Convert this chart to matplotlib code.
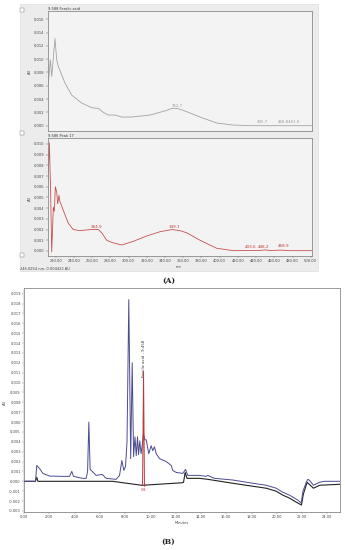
import matplotlib
matplotlib.use('Agg')
import matplotlib.pyplot as plt
from matplotlib.patches import Rectangle
from matplotlib.ticker import MultipleLocator, FormatStrFormatter

# ---------------- data ----------------
# Panel A, top: UV spectrum of ferulic acid standard
std_nm = [211.9, 214.1, 215.6, 219.2, 221.1, 222.9, 230.2, 237.6, 248.6, 259.5, 266.8,
          272.3, 277.8, 285.1, 292.5, 303.5, 323.6, 341.9, 347.4, 352.9, 360.1, 378.5,
          396.8, 414.7, 433.4, 501.4]
std_au = [0.0064, 0.0099, 0.0074, 0.0131, 0.0099, 0.0089, 0.0064, 0.0046, 0.0034, 0.0027,
          0.0026, 0.0020, 0.0016, 0.0016, 0.0013, 0.0013, 0.0016, 0.0023, 0.0026, 0.0026,
          0.0023, 0.0013, 0.0004, 0.0001, 0.0000, 0.0000]
std_labels = ["352.7", "435.7", "468.8461.0"]
std_label_nm = [347.0, 441.0, 464.0]
std_label_au = [0.0027, 0.0003, 0.0003]

# Panel A, bottom: UV spectrum of peak 17 in the sample
pk_nm = [210.8, 213.0, 214.3, 215.6, 217.4, 218.5, 219.6, 221.1, 222.2, 223.6, 224.7,
         228.3, 233.8, 239.3, 246.7, 257.7, 266.8, 270.5, 276.0, 281.5, 292.5, 305.2,
         319.9, 334.5, 347.7, 356.5, 363.8, 378.5, 396.8, 415.0, 444.4, 449.9, 455.4,
         466.4, 477.4, 501.4]
pk_au = [0.0048, 0.0101, 0.0060, -0.0001, 0.0041, 0.0037, 0.0060, 0.0055, 0.0044, 0.0052,
         0.0046, 0.0038, 0.0026, 0.0020, 0.0019, 0.0020, 0.0020, 0.0017, 0.0010, 0.0008,
         0.00056, 0.0009, 0.0014, 0.0018, 0.0020, 0.0019, 0.0017, 0.0010, 0.00025, 0.00003,
         0.00005, 0.0001, 0.00004, 0.00008, 0.00003, 0.00003]
pk_labels = ["264.9", "349.1", "433.6", "448.2", "468.9"]
pk_label_nm = [258.5, 344.0, 428.0, 442.0, 463.5]
pk_label_au = [0.0021, 0.0021, 0.0002, 0.0002, 0.0003]

# Panel B: chromatograms
smp_min = [0.0, 0.91, 1.01, 1.23, 1.49, 2.02, 3.07, 3.6, 3.78, 3.92, 4.65, 4.92, 5.03, 5.13,
           5.23, 5.4, 5.71, 6.19, 6.5, 7.29, 7.56, 7.74, 7.9, 8.03, 8.15, 8.29, 8.44, 8.56,
           8.67, 8.78, 8.88, 8.98, 9.06, 9.16, 9.26, 9.34, 9.45, 9.57, 9.67, 9.87, 10.06,
           10.19, 10.32, 10.46, 10.72, 11.25, 11.65, 11.77, 12.04, 12.56, 12.78, 12.96,
           13.88, 14.4, 14.54, 14.7, 15.07, 16.52, 18.1, 19.16, 19.95, 20.47, 21.0, 21.66,
           21.93, 22.07, 22.33, 22.45, 22.59, 22.9, 23.38, 23.77, 25.0]
smp_au = [0.0, 0.0, 0.0016, 0.0013, 0.0008, 0.00053, 0.0005, 0.0005, 0.0010, 0.0005, 0.0003,
          0.0003, 0.0010, 0.0060, 0.0012, 0.0010, 0.0006, 0.0007, 0.0003, 0.0002, 0.0006,
          0.0021, 0.0011, 0.0015, 0.0040, 0.0184, 0.0023, 0.0120, 0.0025, 0.0045, 0.0026,
          0.0045, 0.0027, 0.0041, 0.0028, 0.0035, 0.0048, 0.0042, 0.0042, 0.0028, 0.0036,
          0.0031, 0.0035, 0.0028, 0.0023, 0.0020, 0.0016, 0.0011, 0.0009, 0.0008, 0.0012,
          0.0006, 0.0006, 0.0005, 0.0006, 0.0005, 0.0003, 0.00013, -0.0002, -0.0004,
          -0.0007, -0.0011, -0.0014, -0.0019, -0.0022, -0.0010, -0.0001, 0.0002, 0.0001,
          -0.0004, -0.0001, 0.0, 0.0]
ref_min = [0.0, 0.9, 1.01, 1.1, 7.0, 7.56, 9.3, 9.38, 12.5, 12.62, 12.75, 12.9, 13.88,
           14.54, 16.52, 18.1, 19.16, 19.95, 20.47, 21.0, 21.66, 21.95, 22.1, 22.4, 22.9,
           23.4, 25.0]
ref_au = [0.0, 0.0, 0.0004, 0.0, 0.0, -0.0001, -0.0004, -0.0004, -0.00015, -0.0001, 0.0009,
          0.0003, 0.0003, 0.0002, -0.0002, -0.0005, -0.0007, -0.0010, -0.0014, -0.0017,
          -0.0022, -0.0024, -0.0013, -0.0001, -0.0007, -0.0004, -0.0003]
fer_min = [9.38, 9.458, 9.53, 9.6]
fer_au = [-0.0004, 0.0111, -0.0005, -0.0004]
fer_label = "Ferulic acid - 9.458"

# ---------------- layout ----------------
W, H = 345, 550
fig = plt.figure(figsize=(W / 100, H / 100), dpi=100)
plt.rcParams['font.family'] = ['DejaVu Sans']


def rect(l, t, r, b):
    return [l / W, 1 - b / H, (r - l) / W, (b - t) / H]


def fx(x):
    return x / W


def fy(y):
    return 1 - y / H


# gray panel of A
fig.patches.append(Rectangle((fx(20), fy(271)), (318 - 20) / W, (271 - 4) / H,
                             transform=fig.transFigure, facecolor='#ececec',
                             edgecolor='#d8d8d8', lw=0.4, zorder=-10))
for yy in (10, 133, 255):
    fig.patches.append(Rectangle((fx(19.5), fy(yy + 2)), 4 / W, 4 / H,
                                 transform=fig.transFigure, facecolor='white',
                                 edgecolor='#707070', lw=0.3, zorder=-5))

tick_fs = 2.6
spine_c = '#8a8a8a'


def style_ax(ax, face):
    ax.set_facecolor(face)
    ax.set_zorder(1)
    for s in ax.spines.values():
        s.set_color(spine_c)
        s.set_linewidth(0.6)
    ax.tick_params(labelsize=tick_fs, length=1.5, width=0.3, pad=0.8,
                   colors='#555555', labelcolor='#444444')


# --- A top ---
ax1 = fig.add_axes(rect(47.7, 11, 312, 131))
style_ax(ax1, '#f3f3f3')
ax1.plot(std_nm, std_au, color='#a3a3a3', lw=0.6)
ax1.set_xlim(211.2, 501.4)
ax1.set_ylim(-0.0008, 0.01725)
ax1.yaxis.set_major_locator(MultipleLocator(0.002))
ax1.yaxis.set_major_formatter(FormatStrFormatter('%.3f'))
ax1.set_xticks([])
for t, x, y in zip(std_labels, std_label_nm, std_label_au):
    ax1.text(x, y, t, fontsize=2.8, color='#9a9a9a', ha='left', va='bottom')
fig.text(fx(47.7), fy(9.3), "9.588 Ferulic acid", fontsize=2.6, color='#333333',
         ha='left', va='center')
fig.text(fx(30), fy(71), "AU", fontsize=2.6, color='#444444', rotation=90,
         ha='center', va='center')

# --- A bottom ---
ax2 = fig.add_axes(rect(47.7, 138, 312, 256))
style_ax(ax2, '#f3f3f3')
ax2.plot(pk_nm, pk_au, color='#c65050', lw=0.6)
ax2.set_xlim(211.2, 501.4)
ax2.set_ylim(-0.00047, 0.01056)
ax2.yaxis.set_major_locator(MultipleLocator(0.001))
ax2.yaxis.set_major_formatter(FormatStrFormatter('%.3f'))
ax2.xaxis.set_major_locator(MultipleLocator(20))
ax2.xaxis.set_major_formatter(FormatStrFormatter('%.2f'))
for t, x, y in zip(pk_labels, pk_label_nm, pk_label_au):
    ax2.text(x, y, t, fontsize=3.0, color='#c03a3a', ha='left', va='bottom')
fig.text(fx(47.7), fy(136), "9.586 Peak 17", fontsize=2.6, color='#333333',
         ha='left', va='center')
fig.text(fx(30), fy(198), "AU", fontsize=2.6, color='#444444', rotation=90,
         ha='center', va='center')
fig.text(fx(179), fy(267), "nm", fontsize=2.6, color='#444444', ha='center', va='center')
fig.text(fx(20.5), fy(268.5), "246.0254 nm, 0.004422 AU", fontsize=2.6, color='#444444',
         ha='left', va='center')
fig.text(fx(168.5), fy(281), "(A)", fontsize=5.5, family='DejaVu Serif',
         fontweight='bold', color='#222222', ha='center', va='center')

# --- B ---
ax3 = fig.add_axes(rect(24, 288.3, 340, 512.3))
style_ax(ax3, 'white')
ax3.plot(ref_min, ref_au, color='#222222', lw=0.8, zorder=2)
ax3.plot(smp_min, smp_au, color='#4b4b90', lw=0.7, zorder=3)
ax3.plot(fer_min, fer_au, color='#b83a3a', lw=0.7, zorder=4)
ax3.set_xlim(0, 25.0)
ax3.set_ylim(-0.00314, 0.01955)
ax3.yaxis.set_major_locator(MultipleLocator(0.001))
ax3.yaxis.set_minor_locator(MultipleLocator(0.0002))
ax3.yaxis.set_major_formatter(FormatStrFormatter('%.3f'))
ax3.xaxis.set_major_locator(MultipleLocator(2))
ax3.xaxis.set_minor_locator(MultipleLocator(0.2))
ax3.xaxis.set_major_formatter(FormatStrFormatter('%.2f'))
ax3.tick_params(which='minor', length=0.9, width=0.25, colors='#666666')
ax3.text(9.5, 0.0106, fer_label, rotation=90, fontsize=2.8, color='#333333',
         ha='center', va='bottom')
ax3.text(9.46, -0.0009, "9.46", fontsize=1.8, color='#b83a3a', ha='center', va='center')
fig.text(fx(182), fy(523), "Minutes", fontsize=2.6, color='#444444', ha='center',
         va='center')
fig.text(fx(5), fy(402), "AU", fontsize=2.6, color='#444444', rotation=90,
         ha='center', va='center')
fig.text(fx(168.5), fy(542), "(B)", fontsize=5.5, family='DejaVu Serif',
         fontweight='bold', color='#222222', ha='center', va='center')

fig.savefig('out.png', dpi=100)
